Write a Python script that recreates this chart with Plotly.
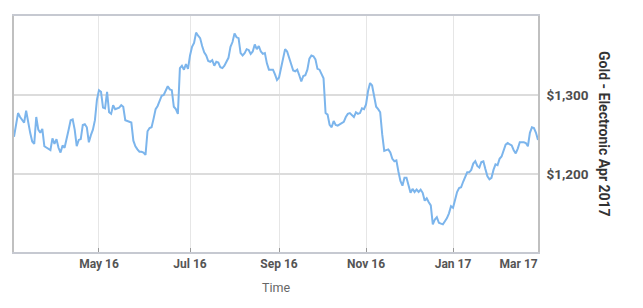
import pandas as pd
import plotly.graph_objects as go

# Daily settlement prices (USD/oz), one per trading day
prices = [
    1247, 1260, 1277, 1272, 1269, 1265, 1280, 1265, 1252, 1241,
    1238, 1272, 1256, 1252, 1257, 1235, 1233, 1231, 1230, 1245,
    1238, 1244, 1233, 1227, 1236, 1233, 1247, 1256, 1268, 1269,
    1256, 1235, 1243, 1244, 1262, 1263, 1259, 1240, 1249, 1256,
    1268, 1294, 1306, 1304, 1284, 1283, 1304, 1278, 1276, 1287,
    1282, 1283, 1284, 1287, 1285, 1268, 1267, 1266, 1265, 1242,
    1235, 1231, 1228, 1228, 1227, 1224, 1254, 1258, 1259, 1270,
    1282, 1286, 1293, 1299, 1300, 1305, 1311, 1307, 1306, 1285,
    1282, 1276, 1334, 1337, 1332, 1339, 1333, 1350, 1361, 1366,
    1379, 1375, 1372, 1362, 1354, 1350, 1343, 1342, 1344, 1337,
    1342, 1341, 1335, 1334, 1337, 1342, 1347, 1361, 1367, 1378,
    1373, 1372, 1353, 1350, 1353, 1358, 1357, 1352, 1355, 1364,
    1358, 1362, 1355, 1352, 1353, 1340, 1332, 1332, 1332, 1326,
    1319, 1322, 1333, 1348, 1358, 1355, 1347, 1338, 1331, 1330,
    1332, 1325, 1317, 1324, 1325, 1332, 1346, 1350, 1349, 1345,
    1333, 1332, 1326, 1321, 1277, 1275, 1262, 1259, 1267, 1262,
    1261, 1263, 1264, 1266, 1272, 1276, 1277, 1275, 1272, 1278,
    1276, 1277, 1283, 1282, 1288, 1305, 1315, 1312, 1300, 1285,
    1282, 1278, 1250, 1229, 1230, 1231, 1227, 1219, 1216, 1217,
    1203, 1191, 1185, 1195, 1195, 1187, 1176, 1181, 1177, 1180,
    1177, 1180, 1176, 1166, 1169, 1164, 1160, 1136, 1142, 1145,
    1138, 1137, 1136, 1140, 1144, 1150, 1159, 1157, 1169, 1177,
    1182, 1183, 1190, 1195, 1202, 1202, 1205, 1213, 1216, 1210,
    1208, 1215, 1216, 1206, 1197, 1193, 1195, 1205, 1212, 1211,
    1219, 1222, 1230, 1237, 1239, 1237, 1236, 1230, 1226, 1232,
    1240, 1240, 1240, 1239, 1235, 1252, 1259, 1258, 1252, 1243,
]

# Trading days (ordinal time axis)
dates = [d.strftime("%Y-%m-%d") for d in pd.bdate_range("2016-03-03", periods=len(prices))]

tick_dates = ["2016-05-02", "2016-07-04", "2016-09-02", "2016-11-02", "2017-01-02", "2017-03-01"]
tick_labels = ["May 16", "Jul 16", "Sep 16", "Nov 16", "Jan 17", "Mar 17" + "\u00a0" * 13]

y_ticks = [1200, 1300]
y_labels = ["$1,200", "$1,300"]
y_title = "Gold - Electronic Apr 2017"
x_title = "Time"

FONT = "Roboto"

fig = go.Figure()
fig.add_trace(go.Scatter(
    x=dates, y=prices, mode="lines",
    line=dict(color="#7cb5ec", width=2),
    name=y_title, showlegend=False,
))

fig.update_layout(
    width=643, height=308,
    margin=dict(l=12, r=105, t=16, b=56),
    paper_bgcolor="white", plot_bgcolor="white",
    font=dict(family=FONT, color="#555"),
    showlegend=False,
    xaxis=dict(
        type="category",
        range=[0, len(prices) - 1],
        tickmode="array", tickvals=tick_dates, ticktext=tick_labels,
        showgrid=True, gridcolor="#e6e6e6", gridwidth=1,
        ticks="inside", ticklen=4, tickcolor="#999", tickwidth=1,
        showline=True, linecolor="#c6c9d1", linewidth=2, mirror=True,
        tickfont=dict(family=FONT, size=12, color="#555", weight="bold"),
        title=dict(text=x_title, font=dict(family=FONT, size=12.5, color="#666"), standoff=13),
        zeroline=False,
    ),
    yaxis=dict(
        side="right",
        range=[1101, 1400],
        tickmode="array", tickvals=y_ticks, ticktext=y_labels,
        showgrid=True, gridcolor="#dcdcdc", gridwidth=2,
        showline=True, linecolor="#c0c0c0", linewidth=1.5, mirror=True,
        ticks="", ticklabelstandoff=4,
        tickfont=dict(family=FONT, size=13.5, color="#4d4d4d", weight="bold"),
        zeroline=False,
    ),
    annotations=[dict(
        text=y_title, xref="paper", yref="paper", x=1, y=0.5,
        xshift=66, xanchor="center", yanchor="middle",
        textangle=90, showarrow=False,
        font=dict(family=FONT, size=14, color="#333", weight="bold"),
    )],
)

fig.write_html("out.html")
